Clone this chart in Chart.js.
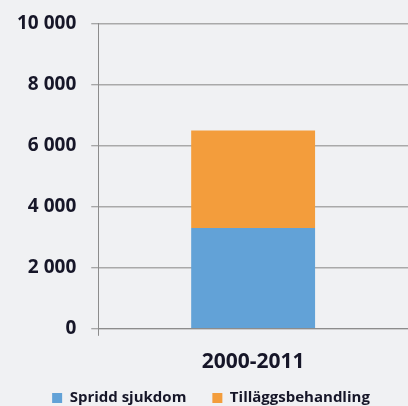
<!DOCTYPE html>
<html><head><meta charset="utf-8">
<script src="https://cdn.jsdelivr.net/npm/chart.js@4"></script>
<style>html,body{margin:0;padding:0;background:#f0f1f3;}#wrap{width:408px;height:406px;}</style>
</head><body><div id="wrap"><canvas id="c"></canvas></div>
<script>
const categories = ["2000-2011"];
const spridd = [3300];
const tillagg = [3200];
const seriesNames = ["Spridd sjukdom", "Tilläggsbehandling"];
const yTicks = [0, 2000, 4000, 6000, 8000, 10000];
const fontFam = "'Open Sans', 'DejaVu Sans', sans-serif";
const textColor = '#161628';

const legendNudge = {
  id: 'legendNudge',
  afterUpdate(chart) {
    const lg = chart.legend;
    if (!lg) return;
    const dx = 6, dy = 364.5 - lg.top;
    lg.left += dx; lg.right += dx;
    lg.top += dy; lg.bottom += dy;
  }
};

new Chart(document.getElementById('c'), {
  type: 'bar',
  data: {
    labels: categories,
    datasets: [
      {label: seriesNames[0], data: spridd, backgroundColor: '#62a2d7', barPercentage: 0.4, categoryPercentage: 1},
      {label: seriesNames[1], data: tillagg, backgroundColor: '#f39d3c', barPercentage: 0.4, categoryPercentage: 1}
    ]
  },
  plugins: [legendNudge],
  options: {
    responsive: true, maintainAspectRatio: false, animation: false,
    layout: {padding: {top: 0, right: 0, left: 2, bottom: -34}},
    plugins: {
      legend: {position: 'bottom', labels: {boxWidth: 10, boxHeight: 10, padding: 26, color: textColor, font: {family: fontFam, size: 15, weight: 'bold'}}},
      tooltip: {enabled: false}
    },
    scales: {
      x: {stacked: true, grid: {display: true, drawOnChartArea: false, tickLength: 7, color: '#8c8c8c'}, border: {color: '#8c8c8c'},
          ticks: {padding: 14, color: textColor, font: {family: fontFam, size: 21, weight: 'bold'}}},
      y: {stacked: true, min: 0, max: 10000, afterBuildTicks: s => { s.ticks = yTicks.map(v => ({value: v})); },
          grid: {color: '#a9a9a9', lineWidth: 1.5, tickLength: 7, tickColor: '#8c8c8c', tickWidth: 1}, border: {color: '#8c8c8c'},
          ticks: {padding: 15, color: textColor, font: {family: fontFam, size: 19, weight: 'bold', lineHeight: 0.9},
            callback: v => v.toLocaleString('sv-SE').replace(/\s/g, ' ')}}
    }
  }
});
</script></body></html>
